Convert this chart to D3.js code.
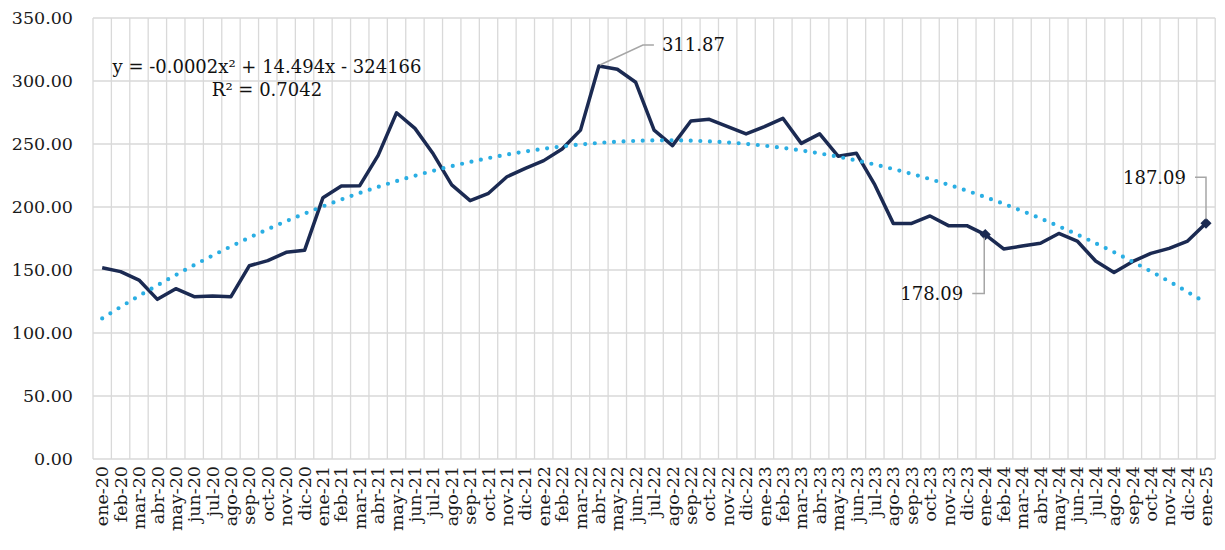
<!DOCTYPE html>
<html><head><meta charset="utf-8">
<script src="https://cdn.jsdelivr.net/npm/d3@7"></script>
<style>
html,body{margin:0;padding:0;background:#fff;}
svg{display:block;font-family:"DejaVu Serif",serif;}
</style></head>
<body>
<svg id="c" width="1225" height="550"></svg>
<script>
const months = ["ene-20","feb-20","mar-20","abr-20","may-20","jun-20","jul-20","ago-20","sep-20","oct-20","nov-20","dic-20",
"ene-21","feb-21","mar-21","abr-21","may-21","jun-21","jul-21","ago-21","sep-21","oct-21","nov-21","dic-21",
"ene-22","feb-22","mar-22","abr-22","may-22","jun-22","jul-22","ago-22","sep-22","oct-22","nov-22","dic-22",
"ene-23","feb-23","mar-23","abr-23","may-23","jun-23","jul-23","ago-23","sep-23","oct-23","nov-23","dic-23",
"ene-24","feb-24","mar-24","abr-24","may-24","jun-24","jul-24","ago-24","sep-24","oct-24","nov-24","dic-24",
"ene-25"];
const values = [151.8,148.7,142.0,126.7,135.2,128.8,129.4,128.8,153.4,157.4,164.0,165.6,
207.4,216.7,216.9,241.0,274.8,262.4,242.0,217.5,205.0,210.9,224.0,230.7,
236.8,246.0,261.0,311.87,309.3,299.0,261.0,248.7,268.3,269.6,263.8,258.0,
263.8,270.4,250.5,258.0,240.3,242.6,217.5,187.0,187.0,192.9,185.2,185.2,
178.09,166.7,169.0,171.2,179.0,173.0,157.1,148.1,156.6,163.2,167.2,173.0,
187.09];
const yTicks = [0,50,100,150,200,250,300,350];
const markers = ["ene-24","ene-25"];
const eqText = "y = -0.0002x² + 14.494x - 324166";
const r2Text = "R² = 0.7042";

const svg = d3.select("#c");
const L=93, R=1215.2, T=18, B=459;
const x = d3.scaleBand().domain(months).range([L,R]);
const bw = x.bandwidth();
const cx = m => x(m)+bw/2;
const y = d3.scaleLinear().domain([0,350]).range([B,T]);
const grid = "#d9d9d9";

// gridlines
const g = svg.append("g");
g.selectAll("line.h").data(yTicks).join("line")
 .attr("x1",L).attr("x2",R).attr("y1",d=>y(d)).attr("y2",d=>y(d))
 .attr("stroke",grid).attr("stroke-width",1.3);
const bounds = months.map(m=>x(m)).concat([R]);
g.selectAll("line.v").data(bounds).join("line")
 .attr("x1",d=>d).attr("x2",d=>d).attr("y1",T).attr("y2",B)
 .attr("stroke",grid).attr("stroke-width",1.3);

// axes
const ya = svg.append("g").attr("transform",`translate(${L},0)`)
 .call(d3.axisLeft(y).tickValues(yTicks).tickSize(0).tickPadding(20).tickFormat(d3.format(".2f")));
ya.select(".domain").remove();
ya.selectAll("text").attr("font-size",17.5).attr("fill","#1a1a1a").attr("font-family","DejaVu Serif");

const xa = svg.append("g").attr("transform",`translate(0,${B})`)
 .call(d3.axisBottom(x).tickSize(0).tickPadding(0));
xa.select(".domain").remove();
xa.selectAll("text").attr("font-size",17.5).attr("fill","#1a1a1a").attr("font-family","DejaVu Serif")
 .attr("text-anchor","end").attr("dy","0.35em")
 .attr("transform","translate(0,7) rotate(-90)").attr("x",0).attr("y",0);

// series line
const line = d3.line().x((d,i)=>cx(months[i])).y(d=>y(d));
svg.append("path").datum(values).attr("d",line)
 .attr("fill","none").attr("stroke","#1b2a52").attr("stroke-width",3.5).attr("stroke-linejoin","round");

// polynomial trendline (least squares, order 2) computed from the series
(function(){
  const n=values.length;
  let S=[0,0,0,0,0], Ty=[0,0,0];
  values.forEach((v,i)=>{ for(let k=0;k<5;k++) S[k]+=Math.pow(i,k); for(let k=0;k<3;k++) Ty[k]+=v*Math.pow(i,k); });
  const A=[[S[0],S[1],S[2],Ty[0]],[S[1],S[2],S[3],Ty[1]],[S[2],S[3],S[4],Ty[2]]];
  for(let c=0;c<3;c++){ for(let r=c+1;r<3;r++){ const f=A[r][c]/A[c][c]; for(let k=c;k<4;k++) A[r][k]-=f*A[c][k]; } }
  const co=[0,0,0];
  for(let r=2;r>=0;r--){ let s=A[r][3]; for(let k=r+1;k<3;k++) s-=A[r][k]*co[k]; co[r]=s/A[r][r]; }
  const pts=d3.range(0,n-1+0.001,0.25).map(t=>[x(months[0])+bw/2+t*bw, y(co[0]+co[1]*t+co[2]*t*t)]);
  svg.append("path").attr("d",d3.line()(pts)).attr("fill","none")
   .attr("stroke","#2aaee3").attr("stroke-width",4.2).attr("stroke-linecap","round")
   .attr("stroke-dasharray","0 9.6");
})();

// markers
svg.selectAll("path.mk").data(markers).join("path")
 .attr("d",d3.symbol(d3.symbolSquare,62))
 .attr("transform",m=>`translate(${cx(m)},${y(values[months.indexOf(m)])}) rotate(45)`)
 .attr("fill","#1b2a52");

// data labels with leader lines
const lc="#a6a6a6";
const fmt=d3.format(".2f");
function lab(m, pts, tx, ty, anchor){
  const v=values[months.indexOf(m)];
  svg.append("path").attr("d",d3.line()(pts.map(p=>[p[0](cx(m)),p[1](y(v))])))
   .attr("fill","none").attr("stroke",lc).attr("stroke-width",1.5);
  svg.append("text").attr("x",tx(cx(m))).attr("y",ty(y(v))).attr("text-anchor",anchor).attr("dy","0.35em")
   .attr("font-size",18).attr("fill","#111").text(fmt(v));
}
lab("abr-22",[[a=>a+1,b=>b-1],[a=>a+44,b=>b-21],[a=>a+55,b=>b-21]],a=>a+63,b=>b-21,"start");
lab("ene-24",[[a=>a-1,b=>b+3],[a=>a-1,b=>b+59],[a=>a-13,b=>b+59]],a=>a-22,b=>b+59,"end");
lab("ene-25",[[a=>a,b=>b-4],[a=>a,b=>b-46],[a=>a-11,b=>b-46]],a=>a-20,b=>b-46,"end");

// equation
svg.append("text").attr("x",267).attr("y",67).attr("dy","0.35em").attr("text-anchor","middle")
 .attr("font-size",18).attr("fill","#111").text(eqText);
svg.append("text").attr("x",267).attr("y",90).attr("dy","0.35em").attr("text-anchor","middle")
 .attr("font-size",18).attr("fill","#111").text(r2Text);
</script>
</body></html>
